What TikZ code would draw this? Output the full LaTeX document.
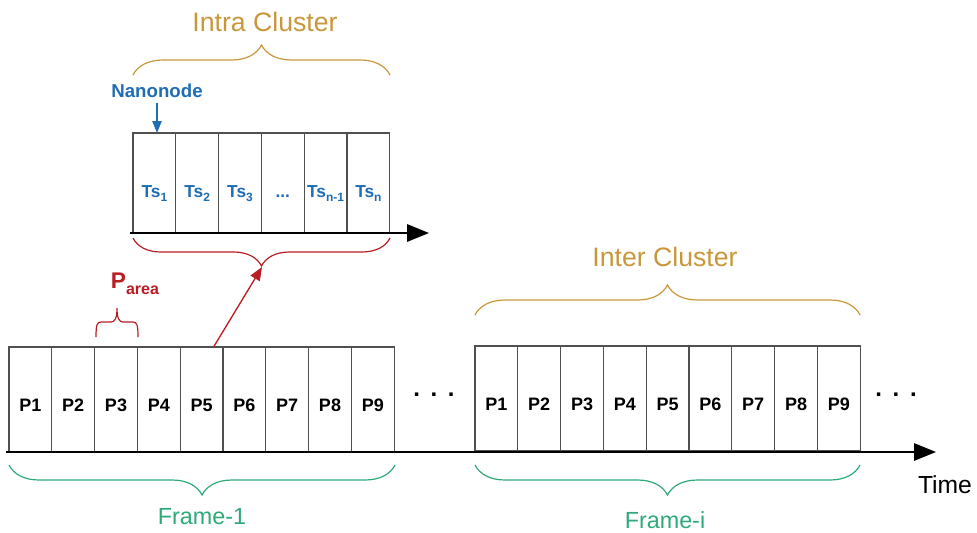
\documentclass[tikz,border=0pt]{standalone}
\usepackage{fontspec}
\setmainfont{Liberation Sans}
\usetikzlibrary{arrows.meta,positioning,calc,decorations.pathreplacing}
\definecolor{tsblue}{HTML}{1F6DB4}
\definecolor{clgold}{HTML}{C9973A}
\definecolor{frgreen}{HTML}{2DAA78}
\definecolor{arred}{HTML}{B81E24}
\definecolor{slotgray}{HTML}{505050}
\newcommand{\tssub}[1]{\raisebox{-3.5pt}{\fontsize{9}{10}\selectfont #1}}
\tikzset{
  pslot/.style={draw=slotgray, line width=0.8pt, minimum width=32.1pt, minimum height=78.75pt,
    inner sep=0pt, outer sep=0pt, text height=17.5pt, text depth=0pt,
    font=\bfseries\fontsize{13.5}{16}\selectfont},
  tsslot/.style={pslot, minimum height=75pt, text height=21pt, text=tsblue,
    font=\bfseries\fontsize{13}{15}\selectfont},
  timeaxis/.style={-{Triangle[length=16.5pt, width=13pt]}, line width=1.5pt},
  braceup/.style={decorate, decoration={brace, amplitude=22.5pt}, line width=0.9pt},
  bracedown/.style={decorate, decoration={brace, mirror, amplitude=22.5pt}, line width=0.9pt},
  clusterlabel/.style={text=clgold, font=\fontsize{20}{24}\selectfont},
  framelabel/.style={text=frgreen, font=\fontsize{17.5}{21}\selectfont},
  gapdots/.style={inner sep=0pt, font=\bfseries\fontsize{18}{20}\selectfont},
  nanoarrow/.style={-{Triangle[length=9pt, width=7pt]}, draw=tsblue, line width=1pt},
  areaarrow/.style={-{Triangle[length=10pt, width=8pt]}, draw=arred, line width=1pt}
}

\begin{document}
\begin{tikzpicture}[x=0.75pt, y=-0.75pt]
  \useasboundingbox (0,0) rectangle (977,532);

  % frame 1
  \node[pslot, anchor=north west] (fa1) at (9,347) {P1};
  \node[pslot, right=0pt of fa1] (fa2) {P2};
  \node[pslot, right=0pt of fa2] (fa3) {P3};
  \node[pslot, right=0pt of fa3] (fa4) {P4};
  \node[pslot, right=0pt of fa4] (fa5) {P5};
  \node[pslot, right=0pt of fa5] (fa6) {P6};
  \node[pslot, right=0pt of fa6] (fa7) {P7};
  \node[pslot, right=0pt of fa7] (fa8) {P8};
  \node[pslot, right=0pt of fa8] (fa9) {P9};

  % frame i
  \node[pslot, anchor=north west] (fi1) at (475,346) {P1};
  \node[pslot, right=0pt of fi1] (fi2) {P2};
  \node[pslot, right=0pt of fi2] (fi3) {P3};
  \node[pslot, right=0pt of fi3] (fi4) {P4};
  \node[pslot, right=0pt of fi4] (fi5) {P5};
  \node[pslot, right=0pt of fi5] (fi6) {P6};
  \node[pslot, right=0pt of fi6] (fi7) {P7};
  \node[pslot, right=0pt of fi7] (fi8) {P8};
  \node[pslot, right=0pt of fi8] (fi9) {P9};

  % time slots of one cluster
  \node[tsslot, anchor=north west] (ts1) at (133,133) {Ts\tssub{1}};
  \node[tsslot, right=0pt of ts1] (ts2) {Ts\tssub{2}};
  \node[tsslot, right=0pt of ts2] (ts3) {Ts\tssub{3}};
  \node[tsslot, right=0pt of ts3] (ts4) {...};
  \node[tsslot, right=0pt of ts4] (ts5) {Ts\tssub{n-1}};
  \node[tsslot, right=0pt of ts5] (ts6) {Ts\tssub{n}};

  % time axes
  \coordinate (ax0) at (6,452);
  \coordinate (ax1) at (936,452);
  \coordinate (tx0) at (130,233);
  \coordinate (tx1) at (429,233);
  \draw[timeaxis] (ax0) -- (ax1);
  \draw[timeaxis] (tx0) -- (tx1);

  \node[gapdots] (gap1) at (434,395) {.\hspace{8pt}.\hspace{8pt}.};
  \node[gapdots] (gap2) at (896,395) {.\hspace{8pt}.\hspace{8pt}.};
  \node[font=\fontsize{18.5}{22}\selectfont] (time) at (945,485) {Time};

  % braces and labels
  \draw[braceup, clgold] (133,75) -- (390,75);
  \node[clusterlabel] (intra) at (265,22) {Intra Cluster};
  \draw[braceup, clgold] (475,315) -- (860,315);
  \node[clusterlabel] (inter) at (665,257) {Inter Cluster};
  \draw[bracedown, frgreen] (9,465) -- (395,465);
  \node[framelabel] (frame1) at (202,517) {Frame-1};
  \draw[bracedown, frgreen] (475,465) -- (860,465);
  \node[framelabel] (framei) at (665,520) {Frame-i};

  \node[text=tsblue, font=\bfseries\fontsize{14}{16}\selectfont] (nano) at (157,91) {Nanonode};
  \draw[nanoarrow] (nano.south) -- (nano.south |- ts1.north);

  \draw[bracedown, arred, decoration={amplitude=21pt}] (133,238) -- (390,238);
  \coordinate (tstip) at (262,267);
  \draw[areaarrow] ($(fa5.north west)!0.78!(fa5.north east)$) -- (tstip);

  \draw[arred, line width=0.9pt] (96,337) .. controls (96,325) and (97,322) .. (101,322) -- (111,322)
    .. controls (115,322) and (117,318) .. (117,308) .. controls (117,318) and (119,322) .. (123,322)
    -- (133,322) .. controls (137,322) and (138,325) .. (138,337);
  \node[text=arred, font=\bfseries] (parea) at (135,284)
    {{\fontsize{17}{20}\selectfont P}\raisebox{-4.5pt}{\fontsize{12}{14}\selectfont area}};
\end{tikzpicture}
\end{document}
